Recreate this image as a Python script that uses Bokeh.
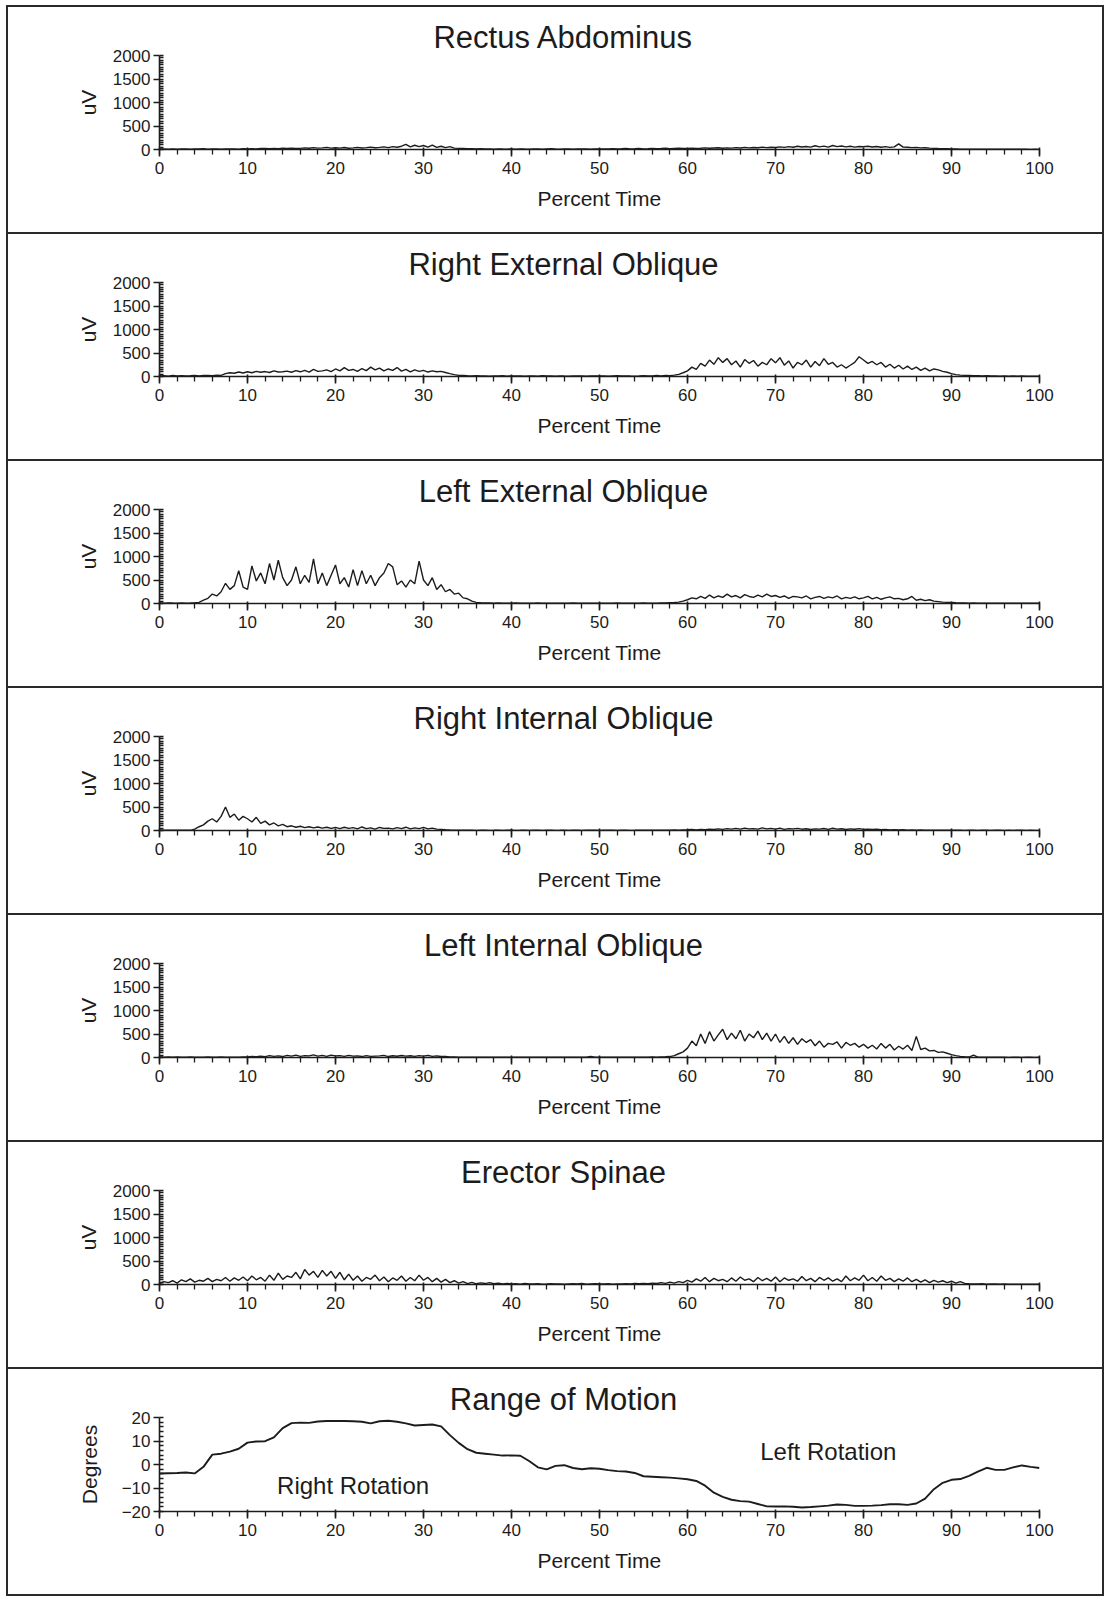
from bokeh.plotting import figure
from bokeh.models import Range1d, Label, SingleIntervalTicker
from bokeh.layouts import column
from bokeh.embed import file_html
from bokeh.resources import INLINE

# ---------------- data ----------------
time_emg = [i * 0.5 for i in range(201)]   # percent time, 0.5 % steps
time_rom = list(range(101))                # percent time, 1 % steps

rectus_abdominus = [
    5, 10, 8, 12, 6, 10, 14, 8, 12, 10, 15, 9, 13, 11, 8, 14, 10, 12, 9, 15,
    12, 18, 10, 20, 25, 15, 22, 18, 28, 20, 30, 22, 25, 35, 28, 40, 30, 35, 45, 30,
    38, 30, 42, 28, 35, 45, 32, 40, 50, 38, 45, 55, 40, 60, 48, 70, 110, 55, 90, 60,
    85, 50, 95, 45, 70, 40, 60, 30, 25, 20, 15, 18, 12, 15, 10, 14, 8, 12, 10, 9,
    12, 8, 14, 10, 9, 13, 11, 8, 12, 15, 10, 9, 14, 11, 8, 12, 10, 13, 9, 11,
    10, 14, 12, 18, 11, 15, 20, 13, 16, 22, 14, 18, 25, 16, 20, 28, 18, 22, 26, 20,
    25, 30, 22, 28, 35, 26, 32, 38, 28, 35, 30, 40, 32, 45, 35, 42, 38, 50, 40, 48,
    42, 55, 45, 60, 48, 70, 52, 65, 50, 80, 55, 72, 50, 85, 60, 75, 55, 70, 50, 65,
    58, 70, 52, 65, 48, 60, 45, 55, 120, 50, 48, 40, 45, 35, 38, 30, 25, 20, 18, 15,
    12, 10, 8, 9, 7, 8, 6, 7, 5, 6, 5, 6, 4, 5, 4, 5, 4, 5, 3, 4, 3,
]

right_external_oblique = [
    10, 15, 8, 20, 12, 18, 10, 15, 22, 14, 20, 25, 18, 30, 25, 60, 80, 70, 95, 75,
    100, 80, 110, 90, 105, 85, 120, 95, 100, 115, 90, 125, 100, 130, 95, 150, 110, 120, 140, 105,
    160, 120, 190, 130, 150, 110, 170, 125, 200, 140, 180, 120, 160, 130, 190, 115, 150, 100, 140, 110,
    130, 95, 120, 100, 110, 85, 60, 40, 25, 20, 15, 12, 18, 10, 14, 8, 12, 10, 15, 9,
    12, 10, 14, 8, 11, 13, 9, 15, 10, 12, 8, 14, 11, 9, 13, 10, 12, 8, 11, 14,
    10, 13, 9, 12, 15, 10, 14, 11, 9, 12, 16, 10, 13, 20, 12, 25, 18, 30, 45, 80,
    120, 200, 150, 280, 220, 350, 260, 400, 300, 380, 250, 330, 200, 360, 280, 340, 220, 300, 250, 380,
    290, 400, 240, 330, 180, 300, 250, 350, 200, 320, 230, 380, 260, 300, 200, 250, 180, 240, 300, 420,
    350, 280, 320, 250, 300, 200, 260, 180, 240, 160, 220, 150, 200, 130, 180, 120, 160, 140, 110, 90,
    60, 40, 30, 25, 20, 15, 18, 12, 15, 10, 12, 8, 10, 9, 11, 8, 10, 7, 9, 8, 6,
]

left_external_oblique = [
    10, 8, 12, 10, 9, 11, 8, 10, 15, 25, 70, 110, 200, 160, 250, 430, 300, 380, 700, 350,
    300, 800, 480, 650, 420, 850, 500, 920, 550, 380, 500, 780, 420, 600, 450, 950, 420, 650, 380, 600,
    820, 420, 550, 350, 720, 380, 700, 420, 600, 380, 550, 650, 850, 780, 400, 480, 350, 500, 420, 900,
    500, 380, 550, 300, 400, 250, 300, 200, 220, 120, 100, 50, 25, 15, 12, 10, 8, 10, 7, 9,
    8, 10, 7, 9, 6, 8, 10, 7, 9, 8, 6, 9, 7, 8, 10, 6, 8, 7, 9, 8,
    7, 9, 8, 6, 10, 8, 7, 9, 6, 8, 10, 7, 9, 8, 12, 10, 15, 20, 30, 50,
    80, 120, 100, 150, 110, 180, 120, 160, 130, 200, 140, 170, 120, 190, 150, 130, 180, 140, 200, 150,
    170, 130, 160, 110, 150, 140, 120, 160, 100, 130, 150, 110, 140, 120, 160, 100, 130, 110, 140, 100,
    120, 150, 100, 130, 90, 120, 140, 100, 110, 80, 100, 150, 70, 90, 60, 80, 50, 40, 30, 25,
    20, 15, 12, 10, 8, 10, 7, 9, 6, 8, 7, 9, 6, 8, 7, 6, 8, 5, 7, 6, 5,
]

right_internal_oblique = [
    5, 6, 4, 5, 7, 5, 6, 4, 30, 80, 120, 200, 250, 180, 300, 500, 280, 350, 220, 300,
    250, 180, 280, 150, 200, 120, 160, 100, 130, 80, 100, 70, 90, 60, 80, 55, 75, 50, 70, 45,
    65, 40, 70, 45, 60, 35, 75, 40, 55, 30, 65, 45, 50, 35, 60, 40, 70, 35, 55, 40,
    65, 35, 50, 30, 25, 15, 10, 8, 6, 5, 4, 5, 3, 4, 5, 3, 4, 6, 3, 4,
    5, 3, 4, 6, 3, 4, 5, 3, 4, 5, 3, 4, 6, 3, 4, 5, 3, 4, 5, 4,
    3, 5, 4, 6, 3, 4, 5, 3, 4, 6, 5, 4, 7, 5, 6, 8, 6, 10, 8, 12,
    15, 20, 12, 25, 18, 30, 20, 35, 25, 40, 30, 45, 28, 50, 35, 40, 30, 55, 35, 45,
    30, 50, 25, 40, 35, 45, 28, 38, 22, 35, 30, 42, 25, 48, 30, 38, 22, 35, 28, 40,
    25, 30, 20, 28, 15, 22, 12, 18, 10, 15, 8, 12, 6, 10, 8, 6, 5, 7, 4, 6,
    5, 4, 6, 3, 5, 4, 3, 5, 4, 3, 4, 5, 3, 4, 3, 5, 4, 3, 4, 3, 3,
]

left_internal_oblique = [
    15, 8, 10, 6, 12, 8, 5, 10, 7, 9, 6, 11, 8, 5, 10, 7, 9, 6, 8, 10,
    12, 20, 15, 30, 18, 40, 25, 35, 20, 45, 30, 50, 25, 40, 35, 55, 30, 45, 25, 50,
    35, 40, 25, 45, 30, 35, 20, 40, 25, 30, 35, 45, 20, 38, 28, 42, 30, 36, 25, 40,
    30, 45, 25, 35, 20, 25, 12, 10, 8, 6, 5, 7, 4, 6, 5, 8, 4, 6, 5, 7,
    5, 6, 4, 7, 5, 6, 4, 5, 7, 4, 6, 5, 4, 6, 5, 4, 7, 5, 20, 6,
    5, 4, 6, 5, 7, 4, 6, 5, 4, 6, 8, 5, 10, 7, 12, 15, 20, 40, 80, 120,
    200, 350, 250, 500, 300, 550, 350, 480, 600, 380, 520, 400, 580, 350, 500, 420, 560, 380, 520, 350,
    500, 320, 450, 300, 420, 280, 400, 320, 380, 250, 350, 220, 300, 280, 330, 200, 320, 260, 300, 220,
    280, 200, 260, 180, 300, 200, 280, 160, 240, 180, 260, 150, 450, 170, 200, 140, 150, 110, 120, 90,
    60, 40, 25, 15, 10, 50, 8, 6, 5, 4, 6, 5, 4, 3, 5, 4, 3, 5, 4, 3, 4,
]

erector_spinae = [
    20, 60, 40, 80, 30, 100, 60, 120, 50, 90, 70, 130, 60, 110, 80, 150, 70, 140, 90, 160,
    80, 180, 100, 150, 70, 200, 90, 240, 110, 180, 150, 260, 120, 320, 200, 280, 150, 300, 180, 280,
    130, 260, 100, 220, 90, 180, 70, 150, 110, 200, 80, 160, 60, 140, 90, 180, 70, 150, 80, 200,
    90, 150, 60, 130, 50, 110, 40, 80, 30, 60, 20, 45, 15, 35, 20, 40, 15, 30, 10, 25,
    10, 15, 8, 20, 12, 10, 15, 8, 12, 18, 10, 14, 8, 12, 16, 10, 20, 8, 12, 15,
    10, 12, 18, 8, 14, 10, 16, 12, 20, 15, 25, 18, 30, 22, 40, 25, 50, 30, 60, 40,
    90, 50, 120, 70, 150, 60, 130, 80, 110, 60, 140, 70, 160, 90, 120, 60, 150, 80, 130, 70,
    160, 60, 140, 90, 120, 70, 170, 80, 130, 60, 150, 90, 140, 70, 120, 60, 180, 80, 140, 90,
    200, 80, 150, 70, 180, 90, 130, 60, 120, 70, 140, 60, 110, 50, 100, 40, 90, 50, 80, 40,
    70, 30, 60, 25, 15, 12, 10, 15, 8, 10, 12, 8, 10, 6, 9, 7, 8, 5, 7, 6, 5,
]

range_of_motion = [
    -3.8, -3.7, -3.6, -3.4, -3.8, -1.0, 4.2, 4.6, 5.5, 6.7,
    9.3, 9.8, 9.9, 11.5, 15.5, 17.6, 17.8, 17.7, 18.3, 18.5,
    18.5, 18.5, 18.4, 18.2, 17.5, 18.4, 18.6, 18.2, 17.5, 16.6,
    16.8, 17.0, 16.2, 12.5, 9.2, 6.5, 5.0, 4.6, 4.2, 3.8,
    3.9, 3.7, 1.5, -1.2, -2.1, -0.6, -0.3, -1.5, -2.0, -1.6,
    -1.8, -2.4, -2.8, -3.0, -3.6, -5.0, -5.2, -5.4, -5.6, -5.9,
    -6.3, -7.0, -9.0, -12.0, -13.8, -15.0, -15.6, -15.8, -16.8, -17.8,
    -17.9, -17.8, -18.0, -18.3, -18.1, -17.8, -17.5, -17.0, -17.2, -17.6,
    -17.6, -17.5, -17.3, -16.9, -16.9, -17.2, -16.6, -14.5, -10.5, -7.8,
    -6.5, -6.2, -4.8, -3.0, -1.4, -2.3, -2.3, -1.2, -0.4, -1.0,
    -1.5,
]

emg_panels = [
    ("Rectus Abdominus", rectus_abdominus),
    ("Right External Oblique", right_external_oblique),
    ("Left External Oblique", left_external_oblique),
    ("Right Internal Oblique", right_internal_oblique),
    ("Left Internal Oblique", left_internal_oblique),
    ("Erector Spinae", erector_spinae),
]
rom_title = "Range of Motion"
rom_notes = [("Right Rotation", 22.0, -9.0), ("Left Rotation", 76.0, 5.5)]

# ---------------- styling ----------------
FONT = "Liberation Sans"
INK = "#1c1c1c"
W, H = 1094, 225
FRAME_LEFT = 151
TITLE_SIZE = 31
TITLE_CENTER = 555  # canvas px

# Arial / Liberation Sans advance widths (1/1000 em) for centring the titles
ADV = {" ": 278, "A": 667, "E": 667, "I": 278, "L": 556, "M": 833, "O": 778, "R": 722,
       "S": 667, "a": 556, "b": 556, "c": 500, "d": 556, "e": 556, "f": 278, "g": 556,
       "h": 556, "i": 222, "l": 222, "m": 833, "n": 556, "o": 556, "p": 556, "q": 556,
       "r": 333, "s": 500, "t": 278, "u": 556, "x": 500}


def text_width(s, size):
    return sum(ADV.get(ch, 556) for ch in s) / 1000.0 * size


def base_figure(title, y_start, y_end, y_interval, y_minor, y_label, y_label_standoff):
    p = figure(width=W, height=H, x_range=Range1d(0, 100), y_range=Range1d(y_start, y_end),
               output_backend="svg", toolbar_location=None,
               min_border_left=FRAME_LEFT, min_border_right=63, min_border_top=48, min_border_bottom=83,
               outline_line_color=None, background_fill_color="white", border_fill_color="white",
               styles={"background-color": "white"})
    p.xgrid.visible = False
    p.ygrid.visible = False

    p.title.text = title
    p.title.align = "left"
    p.title.offset = TITLE_CENTER - FRAME_LEFT - text_width(title, TITLE_SIZE) / 2
    p.title.vertical_align = "bottom"
    p.title.standoff = 2
    p.title.text_font = FONT
    p.title.text_font_size = f"{TITLE_SIZE}px"
    p.title.text_font_style = "normal"
    p.title.text_color = INK

    p.xaxis.ticker = SingleIntervalTicker(interval=10, num_minor_ticks=5)
    p.yaxis.ticker = SingleIntervalTicker(interval=y_interval, num_minor_ticks=y_minor)
    for ax in (p.xaxis, p.yaxis):
        ax.axis_line_color = INK
        ax.axis_line_width = 1.6
        ax.major_tick_line_color = INK
        ax.major_tick_line_width = 1.6
        ax.minor_tick_line_color = INK
        ax.minor_tick_line_width = 1.3
        ax.major_label_text_font = FONT
        ax.major_label_text_font_size = "17px"
        ax.major_label_text_color = INK
        ax.axis_label_text_font = FONT
        ax.axis_label_text_font_style = "normal"
        ax.axis_label_text_color = INK
    p.xaxis.major_tick_out = 7
    p.xaxis.major_tick_in = 2
    p.xaxis.minor_tick_out = 5
    p.xaxis.minor_tick_in = 0
    p.xaxis.major_label_standoff = 5
    p.xaxis.axis_label = "Percent Time"
    p.xaxis.axis_label_text_font_size = "21px"
    p.xaxis.axis_label_standoff = 10

    p.yaxis.major_tick_out = 6
    p.yaxis.major_tick_in = 0
    p.yaxis.minor_tick_out = 0
    p.yaxis.minor_tick_in = 4
    p.yaxis.major_label_standoff = 3
    p.yaxis.axis_label = y_label
    p.yaxis.axis_label_text_font_size = "21px"
    p.yaxis.axis_label_standoff = y_label_standoff
    return p


figs = []
for title, vals in emg_panels:
    p = base_figure(title, 0, 2000, 500, 10, "uV", 10)
    p.line(time_emg[:len(vals)], vals, line_color=INK, line_width=1.4)
    figs.append(p)

p = base_figure(rom_title, -20, 20, 10, 5, "Degrees", 18)
p.line(time_rom[:len(range_of_motion)], range_of_motion, line_color=INK, line_width=1.9)
for txt, x, y in rom_notes:
    p.add_layout(Label(x=x, y=y, text=txt, text_align="center", text_baseline="middle",
                       text_font=FONT, text_font_size="24px", text_color=INK))
figs.append(p)

layout = column(*figs, spacing=2,
                styles={"background-color": "#2a2a2a", "padding": "2px", "width": "fit-content",
                        "margin-left": "6px", "margin-top": "5px"})

open("out.html", "w").write(file_html(layout, INLINE, title="EMG"))
